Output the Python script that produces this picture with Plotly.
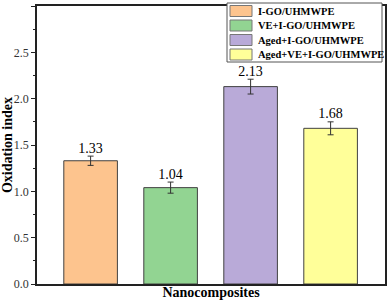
import plotly.graph_objects as go

categories = ["I-GO/UHMWPE", "VE+I-GO/UHMWPE", "Aged+I-GO/UHMWPE", "Aged+VE+I-GO/UHMWPE"]
values = [1.33, 1.04, 2.13, 1.68]
errors = [0.05, 0.06, 0.08, 0.07]
labels = ["1.33", "1.04", "2.13", "1.68"]
colors = ["#FDC48E", "#92D492", "#B9AAD8", "#FFFF99"]

serif = "Liberation Serif, Times New Roman, serif"
W, H = 387, 304
L, R, T, B = 37, 2, 6, 20
PW, PH = W - L - R, H - T - B

def px_x(p):
    return (p - L) / PW

def px_y(p):
    return (H - B - p) / PH

fig = go.Figure()
for i, (c, v, e, col) in enumerate(zip(categories, values, errors, colors)):
    fig.add_trace(go.Bar(
        x=[i], y=[v], name=c, width=0.67, showlegend=False,
        marker=dict(color=col, line=dict(color="#404040", width=1)),
        error_y=dict(type="data", array=[e], color="#333333", thickness=1, width=3),
    ))

fig.add_trace(go.Scatter(
    x=list(range(len(values))), y=[v + e for v, e in zip(values, errors)],
    mode="text", text=labels, textposition="top center",
    textfont=dict(family=serif, size=14, color="black"),
    showlegend=False, hoverinfo="skip",
))

# custom compact legend box
fig.add_shape(type="rect", xref="paper", yref="paper",
              x0=px_x(227), x1=px_x(382), y0=px_y(62), y1=px_y(3),
              line=dict(color="#555555", width=1), fillcolor="white", layer="above")
row_centers = [11, 25.5, 40, 54.5]
for c, col, yc in zip(categories, colors, row_centers):
    fig.add_shape(type="rect", xref="paper", yref="paper",
                  x0=px_x(230), x1=px_x(252), y0=px_y(yc + 5.5), y1=px_y(yc - 5.5),
                  line=dict(color="#777777", width=1), fillcolor=col, layer="above")
    fig.add_annotation(xref="paper", yref="paper", x=px_x(256), y=px_y(yc),
                       xanchor="left", yanchor="middle", text="<b>" + c + "</b>",
                       showarrow=False, font=dict(family=serif, size=10.5, color="black"))

fig.update_layout(
    width=W, height=H,
    margin=dict(l=L, r=R, t=T, b=B, autoexpand=False),
    plot_bgcolor="white", paper_bgcolor="white",
    font=dict(family=serif, color="black"),
    barmode="overlay",
    showlegend=False,
    xaxis=dict(
        range=[-0.67, 3.68], showticklabels=False, ticks="", automargin=False,
        showline=True, linecolor="#222222", linewidth=1.5, mirror=True,
        showgrid=False, zeroline=False,
        title=dict(text="<b>Nanocomposites</b>", standoff=2,
                   font=dict(family=serif, size=14, color="black")),
    ),
    yaxis=dict(
        range=[0, 3], tickvals=[0, 0.5, 1.0, 1.5, 2.0, 2.5, 3.0], automargin=False,
        ticktext=["0.0", "0.5", "1.0", "1.5", "2.0", "2.5", "3.0"],
        ticks="outside", ticklen=4, tickwidth=1, tickcolor="#222222",
        minor=dict(tickvals=[0.25, 0.75, 1.25, 1.75, 2.25, 2.75], ticks="outside", ticklen=2, tickcolor="#222222"),
        showline=True, linecolor="#222222", linewidth=1.5, mirror=True,
        showgrid=False, zeroline=False,
        tickfont=dict(family=serif, size=12, color="#333333"),
        title=dict(text="<b>Oxidation index</b>", standoff=2,
                   font=dict(family=serif, size=14, color="black")),
    ),
)

fig.write_html("out.html", config={"displayModeBar": False},
               post_script="document.body.style.margin='0';")
